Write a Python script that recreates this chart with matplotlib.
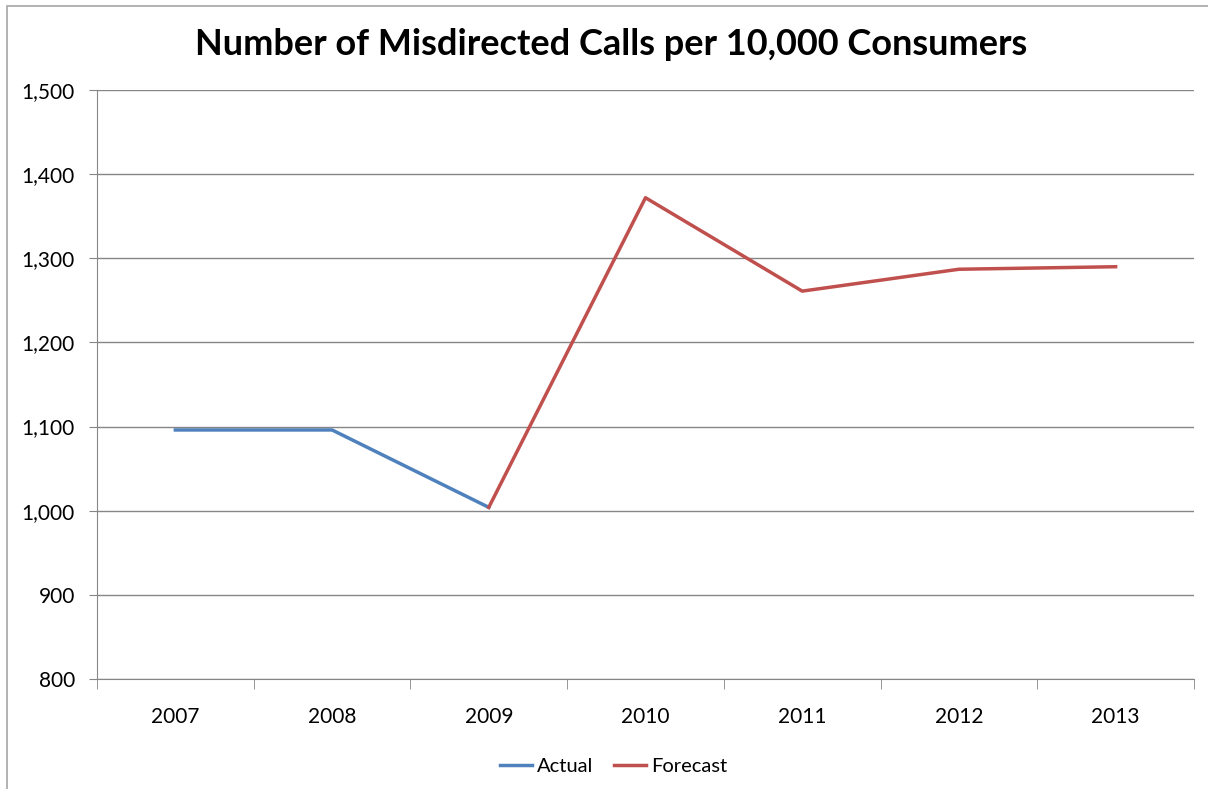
import matplotlib.pyplot as plt
from matplotlib.patches import Rectangle
import numpy as np

years = ["2007", "2008", "2009", "2010", "2011", "2012", "2013"]
actual = [1096, 1096, 1004, None, None, None, None]
forecast = [None, None, 1004, 1372, 1261, 1287, 1290]

plt.rcParams["font.family"] = ["Lato", "DejaVu Sans"]

fig = plt.figure(figsize=(12.08, 7.89), dpi=100)
ax = fig.add_axes([0.0803, 0.1394, 0.9081, 0.7465])

# outer chart border (Excel style), partially cut off at right/bottom
fig.patches.append(Rectangle((7 / 1208, -0.1), 1.2, 1 - 6 / 789 + 0.1,
                             transform=fig.transFigure, fill=False,
                             edgecolor="#a6a6a6", linewidth=1.2))

x = np.arange(len(years))
a = np.array([np.nan if v is None else v for v in actual], dtype=float)
f = np.array([np.nan if v is None else v for v in forecast], dtype=float)
ax.plot(x, a, color="#4F81BD", linewidth=2.5, label="Actual")
ax.plot(x, f, color="#C0504D", linewidth=2.5, label="Forecast")

ax.set_xlim(-0.5, len(years) - 0.5)
ax.set_ylim(800, 1500)
ax.set_yticks(range(800, 1501, 100))
ax.set_yticklabels([f"{v:,}" for v in range(800, 1501, 100)], fontsize=15)
ax.set_xticks(x)
ax.set_xticklabels(years, fontsize=15)
ax.set_xticks(np.arange(-0.5, len(years)), minor=True)
ax.tick_params(axis="x", which="major", length=0, pad=20)
ax.tick_params(axis="x", which="minor", length=7, color="#868686")
ax.tick_params(axis="y", length=6, color="#868686", pad=10)
ax.grid(axis="y", color="#868686", linewidth=1)
ax.set_axisbelow(True)
for s in ["top", "right"]:
    ax.spines[s].set_visible(False)
for s in ["left", "bottom"]:
    ax.spines[s].set_color("#868686")

fig.text(0.506, 0.943, "Number of Misdirected Calls per 10,000 Consumers",
         ha="center", va="center", fontsize=26, fontweight="bold")

fig.legend(loc="center", bbox_to_anchor=(0.508, 0.029), ncol=2, frameon=False,
           fontsize=14.5, handlelength=1.6, handletextpad=0.25, columnspacing=1.0)

fig.savefig("out.png", dpi=100)
